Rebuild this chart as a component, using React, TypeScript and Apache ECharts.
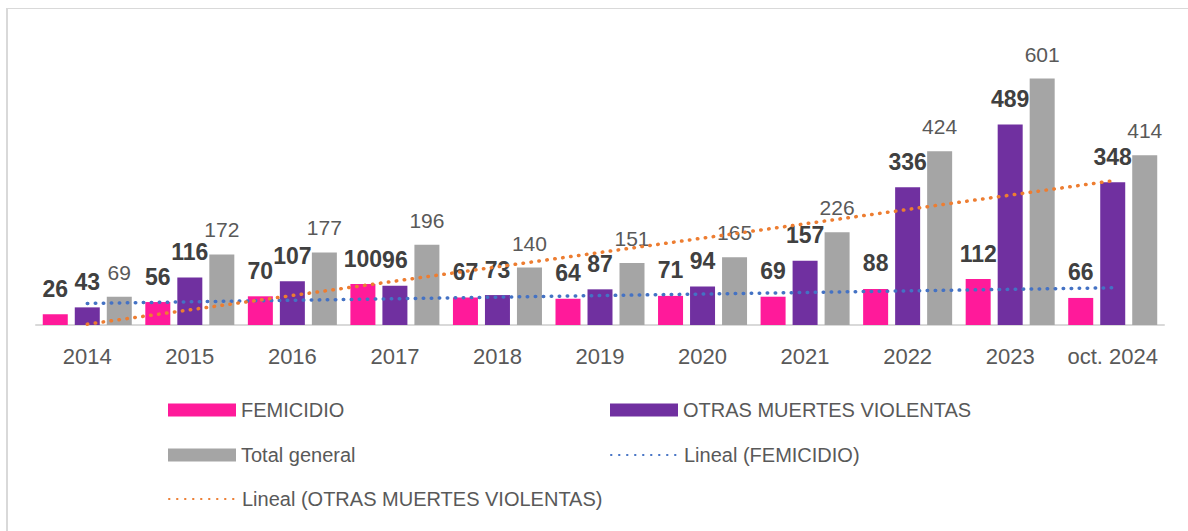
import React, { useEffect, useRef } from "react";
import * as echarts from "echarts";

const categories = ["2014", "2015", "2016", "2017", "2018", "2019", "2020", "2021", "2022", "2023", "oct. 2024"];
const femicidio = [26, 56, 70, 100, 67, 64, 71, 69, 88, 112, 66];
const otras = [43, 116, 107, 96, 73, 87, 94, 157, 336, 489, 348];
const total = [69, 172, 177, 196, 140, 151, 165, 226, 424, 601, 414];

// Excel "Lineal" trendline = least-squares linear fit of the series
function linearTrend(values: number[]): number[] {
  const n = values.length;
  const mx = (n - 1) / 2;
  const my = values.reduce((a, b) => a + b, 0) / n;
  let sxy = 0;
  let sxx = 0;
  values.forEach((v, i) => {
    sxy += (i - mx) * (v - my);
    sxx += (i - mx) * (i - mx);
  });
  const slope = sxy / sxx;
  const intercept = my - slope * mx;
  return values.map((_, i) => +(intercept + slope * i).toFixed(2));
}

const ARIAL = "'Liberation Sans', Arial, sans-serif";

export default function App() {
  const ref = useRef<HTMLDivElement>(null);
  useEffect(() => {
    if (!ref.current) return;
    const chart = echarts.init(ref.current, undefined, { renderer: "svg" });
    const boldLabel = {
      show: true,
      position: "top",
      distance: 14,
      fontFamily: ARIAL,
      fontWeight: "bold",
      fontSize: 23,
      color: "#404040",
    };
    const legendBase = {
      orient: "horizontal",
      padding: 0,
      itemWidth: 68,
      itemHeight: 13,
      itemGap: 5,
      selectedMode: false,
      textStyle: { fontFamily: ARIAL, fontSize: 20, color: "#595959", lineHeight: 24 },
    };
    chart.setOption({
      animation: false,
      backgroundColor: "#ffffff",
      graphic: [
        { type: "line", shape: { x1: 6, y1: 8.5, x2: 1188, y2: 8.5 }, style: { stroke: "#d9d9d9", lineWidth: 1 } },
        { type: "line", shape: { x1: 7, y1: 8, x2: 7, y2: 531 }, style: { stroke: "#d9d9d9", lineWidth: 2 } },
      ],
      legend: [
        { ...legendBase, left: 168, top: 398, data: [{ name: "FEMICIDIO", icon: "rect" }] },
        { ...legendBase, left: 610, top: 398, data: [{ name: "OTRAS MUERTES VIOLENTAS", icon: "rect" }] },
        { ...legendBase, left: 168, top: 443, data: [{ name: "Total general", icon: "rect" }] },
        {
          ...legendBase,
          left: 610,
          top: 443,
          itemStyle: { opacity: 0 },
          data: ["Lineal (FEMICIDIO)"],
        },
        {
          ...legendBase,
          left: 168,
          top: 487,
          itemStyle: { opacity: 0 },
          data: ["Lineal (OTRAS MUERTES VIOLENTAS)"],
        },
      ],
      grid: { left: 36, right: 24, top: 38, bottom: 206, containLabel: false },
      xAxis: {
        type: "category",
        data: categories,
        axisLine: { show: true, lineStyle: { color: "#d9d9d9", width: 2 } },
        axisTick: { show: false },
        axisLabel: { fontFamily: ARIAL, fontSize: 22, color: "#595959", margin: 20, interval: 0 },
      },
      yAxis: {
        type: "value",
        min: 0,
        max: 700,
        show: false,
        splitLine: { show: false },
      },
      series: [
        {
          name: "FEMICIDIO",
          type: "bar",
          data: femicidio,
          barGap: "28%",
          barCategoryGap: "13.2%",
          itemStyle: { color: "#ff1a9a" },
          label: boldLabel,
        },
        {
          name: "OTRAS MUERTES VIOLENTAS",
          type: "bar",
          data: otras,
          barGap: "28%",
          barCategoryGap: "13.2%",
          itemStyle: { color: "#7030a0" },
          label: boldLabel,
        },
        {
          name: "Total general",
          type: "bar",
          data: total,
          barGap: "28%",
          barCategoryGap: "13.2%",
          itemStyle: { color: "#a5a5a5" },
          label: {
            show: true,
            position: "top",
            distance: 14,
            fontFamily: ARIAL,
            fontSize: 21,
            color: "#595959",
          },
        },
        {
          name: "Lineal (FEMICIDIO)",
          type: "line",
          data: linearTrend(femicidio),
          symbol: "none",
          lineStyle: { color: "#4472c4", width: 3.5, type: [0.5, 7.5], cap: "round" },
          itemStyle: { color: "#4472c4" },
          z: 5,
        },
        {
          name: "Lineal (OTRAS MUERTES VIOLENTAS)",
          type: "line",
          data: linearTrend(otras),
          symbol: "none",
          lineStyle: { color: "#ed7d31", width: 3.5, type: [0.5, 7.5], cap: "round" },
          itemStyle: { color: "#ed7d31" },
          z: 5,
        },
      ],
    });
    return () => chart.dispose();
  }, []);
  return (
    <div
      ref={ref}
      style={{ position: "absolute", left: 0, top: 0, width: 1188, height: 531 }}
    />
  );
}
